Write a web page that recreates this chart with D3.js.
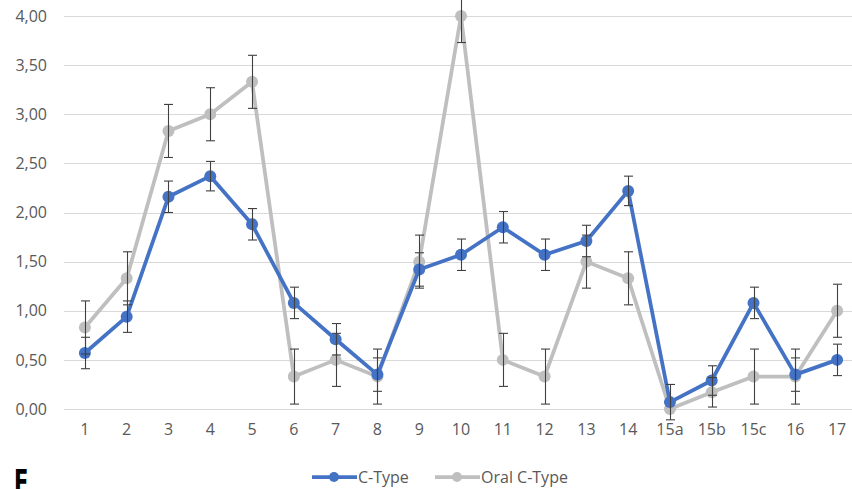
<!DOCTYPE html>
<html>
<head>
<meta charset="utf-8">
<script src="https://cdn.jsdelivr.net/npm/d3@7"></script>
<style>
  body { margin: 0; background: #fff; }
  svg { display: block; font-family: "Open Sans", sans-serif; }
</style>
</head>
<body>
<div id="chart"></div>
<script>
// categories on the x axis
const categories = ["1", "2", "3", "4", "5", "6", "7", "8", "9", "10", "11", "12", "13", "14", "15a", "15b", "15c", "16", "17"];

// C-Type means and error (±)
const cType = [0.57, 0.94, 2.16, 2.37, 1.88, 1.08, 0.71, 0.35, 1.42, 1.57, 1.85, 1.57, 1.71, 2.22, 0.07, 0.29, 1.08, 0.35, 0.50];
const cTypeErr = [0.16, 0.16, 0.16, 0.15, 0.16, 0.16, 0.16, 0.17, 0.17, 0.16, 0.16, 0.16, 0.16, 0.15, 0.18, 0.15, 0.16, 0.17, 0.16];

// Oral C-Type means and error (±)
const oralCType = [0.83, 1.33, 2.83, 3.00, 3.33, 0.33, 0.50, 0.33, 1.50, 4.00, 0.50, 0.33, 1.50, 1.33, 0.00, 0.17, 0.33, 0.33, 1.00];
const oralCTypeErr = [0.27, 0.27, 0.27, 0.27, 0.27, 0.28, 0.27, 0.28, 0.27, 0.27, 0.27, 0.28, 0.27, 0.27, 0.00, 0.15, 0.28, 0.28, 0.27];

const yTicks = [0, 0.5, 1, 1.5, 2, 2.5, 3, 3.5, 4];

const width = 852, height = 489;
const margin = { top: 16, left: 64, right: -6, bottom: 80 };

const svg = d3.select("#chart")
  .append("svg")
  .attr("width", width)
  .attr("height", height);

const x = d3.scaleBand()
  .domain(categories)
  .range([margin.left, width - margin.right]);

const y = d3.scaleLinear()
  .domain([0, 4])
  .range([height - margin.bottom, margin.top]);

const fmt = d3.formatLocale({ decimal: ",", thousands: ".", grouping: [3], currency: ["", ""] }).format(".2f");

// gridlines
svg.append("g")
  .selectAll("line")
  .data(yTicks)
  .join("line")
  .attr("x1", margin.left)
  .attr("x2", width - margin.right)
  .attr("y1", d => Math.round(y(d)) + 0.5)
  .attr("y2", d => Math.round(y(d)) + 0.5)
  .attr("stroke", "#d9d9d9")
  .attr("stroke-width", 1);

// y axis labels
const yAxis = svg.append("g")
  .attr("transform", `translate(47,0)`)
  .call(d3.axisLeft(y).tickValues(yTicks).tickFormat(fmt).tickSize(0).tickPadding(0));
yAxis.select(".domain").remove();
yAxis.selectAll("text")
  .attr("fill", "#595959")
  .style("font-size", "16px")
  .style("font-family", "Open Sans, sans-serif");

// x axis labels
const xAxis = svg.append("g")
  .attr("transform", `translate(0,${height - margin.bottom})`)
  .call(d3.axisBottom(x).tickSize(0).tickPadding(15));
xAxis.select(".domain").remove();
xAxis.selectAll("text")
  .attr("fill", "#595959")
  .style("font-size", "16px")
  .style("font-family", "Open Sans, sans-serif");

const series = [
  { name: "C-Type", values: cType, err: cTypeErr, color: "#4472c4" },
  { name: "Oral C-Type", values: oralCType, err: oralCTypeErr, color: "#bfbfbf" }
];

const cx = d => x(d) + x.bandwidth() / 2;

// lines and markers (gray drawn first so blue is on top, like the picture)
[series[1], series[0]].forEach(s => {
  const line = d3.line()
    .x((d, i) => cx(categories[i]))
    .y(d => y(d));

  svg.append("path")
    .datum(s.values)
    .attr("fill", "none")
    .attr("stroke", s.color)
    .attr("stroke-width", 3.75)
    .attr("stroke-linejoin", "round")
    .attr("d", line);

  svg.append("g")
    .selectAll("circle")
    .data(s.values)
    .join("circle")
    .attr("cx", (d, i) => cx(categories[i]))
    .attr("cy", d => y(d))
    .attr("r", 6)
    .attr("fill", s.color);
});

// error bars
series.forEach(s => {
  const g = svg.append("g")
    .attr("stroke", "#404040")
    .attr("stroke-width", 1.1);
  s.values.forEach((v, i) => {
    const e = s.err[i];
    if (e <= 0) return;
    const px = Math.round(cx(categories[i])) + 0.5;
    const top = y(v + e), bot = y(v - e);
    g.append("line").attr("x1", px).attr("x2", px).attr("y1", top).attr("y2", bot);
    g.append("line").attr("x1", px - 4.5).attr("x2", px + 4.5).attr("y1", top).attr("y2", top);
    g.append("line").attr("x1", px - 4.5).attr("x2", px + 4.5).attr("y1", bot).attr("y2", bot);
  });
});

// legend
const legendY = 477;
const legendItems = [
  { s: series[0], x0: 312 },
  { s: series[1], x0: 435 }
];
legendItems.forEach(item => {
  const g = svg.append("g");
  g.append("line")
    .attr("x1", item.x0).attr("x2", item.x0 + 45)
    .attr("y1", legendY).attr("y2", legendY)
    .attr("stroke", item.s.color).attr("stroke-width", 3.75);
  g.append("circle")
    .attr("cx", item.x0 + 22).attr("cy", legendY).attr("r", 5)
    .attr("fill", item.s.color);
  g.append("text")
    .attr("x", item.x0 + 46).attr("y", legendY + 6)
    .attr("fill", "#595959")
    .style("font-size", "16px")
    .text(item.s.name);
});

// panel letter (cut at the bottom edge, like the picture)
svg.append("text")
  .attr("transform", "translate(14,494) scale(0.62,1)")
  .style("font-family", "DejaVu Sans, sans-serif")
  .style("font-weight", "bold")
  .style("font-size", "34px")
  .attr("fill", "#000")
  .text("E");
</script>
</body>
</html>
